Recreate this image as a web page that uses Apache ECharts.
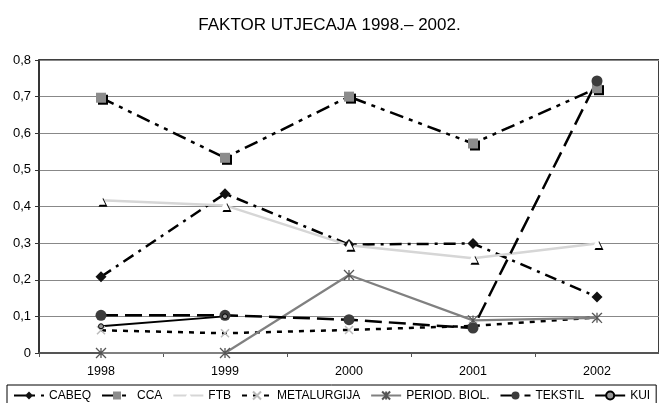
<!DOCTYPE html>
<html>
<head>
<meta charset="utf-8">
<script src="https://cdn.jsdelivr.net/npm/echarts@6/dist/echarts.min.js"></script>
<style>
html,body{margin:0;padding:0;background:#fff;}
#c{width:659px;height:403px;}
</style>
</head>
<body>
<div id="c"></div>
<script>
var years = ['1998', '1999', '2000', '2001', '2002'];
var cabeq = [0.208, 0.435, 0.296, 0.299, 0.153];
var cca = [0.697, 0.533, 0.700, 0.572, 0.723];
var ftb = [0.417, 0.403, 0.294, 0.259, 0.299];
var metalurgija = [0.062, 0.054, 0.063, 0.074, 0.097];
var periodBiol = [0, 0, 0.213, 0.089, 0.096];
var tekstil = [0.103, 0.103, 0.091, 0.068, 0.743];
var kui = [0.073, 0.100, null, null, null];
var yTicks = ['0', '0,1', '0,2', '0,3', '0,4', '0,5', '0,6', '0,7', '0,8'];

var font = 'Liberation Sans, Arial, sans-serif';
var shadow = {shadowColor: '#000', shadowOffsetX: 2, shadowOffsetY: 2, shadowBlur: 0};
var chart = echarts.init(document.getElementById('c'));
chart.setOption({
  animation: false,
  backgroundColor: '#fff',
  title: {
    text: 'FAKTOR UTJECAJA 1998.– 2002.',
    left: 'center', top: 12,
    textStyle: {fontFamily: font, fontSize: 17, fontWeight: 'normal', color: '#000'}
  },
  grid: {left: 39, top: 60, right: -5, bottom: 50, show: true, borderColor: '#000', borderWidth: 1.5},
  legend: {
    left: 7, top: 385,
    padding: [4, 6, 4, 6],
    borderColor: '#000', borderWidth: 1,
    itemWidth: 30, itemHeight: 10, itemGap: 10,
    textStyle: {fontFamily: font, fontSize: 12, color: '#000'},
    data: ['CABEQ', 'CCA', 'FTB', 'METALURGIJA', 'PERIOD. BIOL.', 'TEKSTIL', 'KUI']
  },
  xAxis: {
    type: 'category', data: years, boundaryGap: true,
    axisLine: {lineStyle: {color: '#555', width: 2}},
    axisTick: {show: true, length: 4, lineStyle: {color: '#555'}},
    axisLabel: {fontFamily: font, fontSize: 12.5, color: '#000', margin: 12}
  },
  yAxis: {
    type: 'value', min: 0, max: 0.8, interval: 0.1,
    axisLine: {show: true, lineStyle: {color: '#333', width: 1.5}},
    axisTick: {show: true, length: 4, lineStyle: {color: '#333'}},
    splitLine: {lineStyle: {color: '#888', width: 1}},
    axisLabel: {fontFamily: font, fontSize: 13, color: '#000', margin: 8,
      formatter: function (v) { return yTicks[Math.round(v * 10)]; }}
  },
  series: [
    {name: 'CABEQ', type: 'line', data: cabeq, symbol: 'diamond', symbolSize: 11,
      itemStyle: {color: '#111'}, lineStyle: {color: '#000', width: 2.5, type: [12, 6, 3, 6]}},
    {name: 'CCA', type: 'line', data: cca, symbol: 'rect', symbolSize: 10,
      itemStyle: Object.assign({color: '#8c8c8c'}, shadow),
      lineStyle: {color: '#000', width: 2.5, type: [14, 6, 4, 6, 4, 6], shadowBlur: 0, shadowOffsetX: 0, shadowOffsetY: 0, shadowColor: 'transparent'}},
    {name: 'FTB', type: 'line', data: ftb, symbol: 'triangle', symbolSize: 9,
      itemStyle: Object.assign({color: '#fff'}, shadow),
      lineStyle: {color: '#d6d6d6', width: 2.5, shadowColor: 'transparent'}},
    {name: 'METALURGIJA', type: 'line', data: metalurgija,
      symbol: 'path://M0,0 L10,10 M10,0 L0,10', symbolSize: 8,
      itemStyle: {color: 'none', borderColor: '#bbb', borderWidth: 1.5},
      lineStyle: {color: '#000', width: 2.5, type: [5, 6]}},
    {name: 'PERIOD. BIOL.', type: 'line', data: periodBiol,
      symbol: 'path://M0,0 L10,10 M10,0 L0,10 M5,0 L5,10', symbolSize: 10,
      itemStyle: {color: 'none', borderColor: '#555', borderWidth: 1.3},
      lineStyle: {color: '#808080', width: 2.2}},
    {name: 'TEKSTIL', type: 'line', data: tekstil, symbol: 'circle', symbolSize: 11,
      itemStyle: {color: '#3c3c3c'}, lineStyle: {color: '#000', width: 2.5, type: [17, 7]}},
    {name: 'KUI', type: 'line', data: kui, symbol: 'circle', symbolSize: 5,
      itemStyle: {color: '#999', borderColor: '#000', borderWidth: 1},
      lineStyle: {color: '#000', width: 2}}
  ]
});
</script>
</body>
</html>
